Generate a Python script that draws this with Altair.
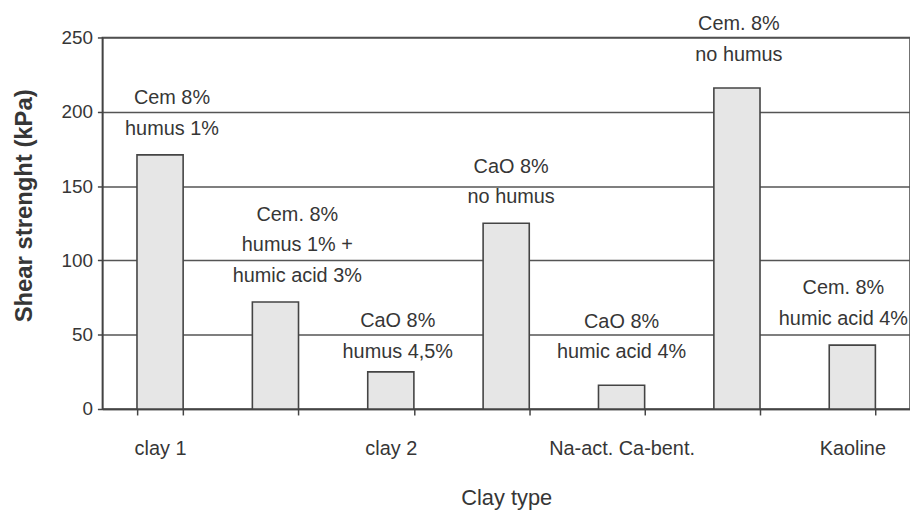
import json
import altair as alt
import pandas as pd

bar_ids = ["1", "2", "3", "4", "5", "6", "7"]
clay_labels = ["clay 1", "", "clay 2", "", "Na-act. Ca-bent.", "", "Kaoline"]
strength = [171, 72, 25, 125, 16, 216, 43]
treatments = [
    "Cem 8%\nhumus 1%",
    "Cem. 8%\nhumus 1% +\nhumic acid 3%",
    "CaO 8%\nhumus 4,5%",
    "CaO 8%\nno humus",
    "CaO 8%\nhumic acid 4%",
    "Cem. 8%\nno humus",
    "Cem. 8%\nhumic acid 4%",
]
y_ticks = [0, 50, 100, 150, 200, 250]

df = pd.DataFrame({"bar": bar_ids, "strength": strength, "label": treatments})

FONT = "Liberation Sans"
INK = "#363636"
PLOT_W, PLOT_H = 813, 374
Y_MAX = 250
LINE_H = 31
GAP = 16  # px between bar top and bottom of label block
# per-label nudges (style only), pixels
LABEL_NUDGE = {"1": (12, 0), "2": (22, 0), "3": (7, 6), "4": (5, 0),
               "5": (0, -7), "6": (2, -7), "7": (-9, 0)}

label_expr = json.dumps(clay_labels) + "[toNumber(datum.value) - 1]"

x = alt.X(
    "bar:N",
    sort=bar_ids,
    scale=alt.Scale(paddingInner=0.6, paddingOuter=0.3),
    axis=alt.Axis(
        title="Clay type",
        labelExpr=label_expr,
        labelAngle=0,
        tickBand="extent",
        tickSize=6,
        labelPadding=24,
        titlePadding=29,
        labelFontSize=20,
        titleFontSize=22,
        titleFontWeight="normal",
        labelFont=FONT,
        titleFont=FONT,
        labelColor=INK,
        titleColor=INK,
        domainColor="#444",
        tickColor="#444",
        domainWidth=1.5,
        tickWidth=1.5,
        grid=False,
    ),
)

y = alt.Y(
    "strength:Q",
    scale=alt.Scale(domain=[0, Y_MAX], nice=False),
    axis=alt.Axis(
        title="Shear strenght (kPa)",
        values=y_ticks,
        tickSize=5,
        labelPadding=5,
        labelFontSize=19,
        titleFontSize=24,
        titleFontWeight="bold",
        titleX=-78,
        titleY=169,
        titleBaseline="middle",
        labelFont=FONT,
        titleFont=FONT,
        labelColor=INK,
        titleColor=INK,
        domainColor="#444",
        tickColor="#444",
        domainWidth=1.5,
        tickWidth=1.5,
        grid=True,
        gridColor="#555",
        gridWidth=1.5,
    ),
)

bars = alt.Chart(df).mark_bar(
    fill="#e6e6e6", stroke="#444", strokeWidth=1.6
).encode(x=x, y=y)

px_to_val = Y_MAX / PLOT_H
layers = [bars]
for b in bar_ids:
    ddx, ddy = LABEL_NUDGE[b]
    layers.append(
        alt.Chart(df)
        .transform_filter(f"datum.bar == '{b}'")
        .transform_calculate(
            ty=f"datum.strength + ((length(split(datum.label, '\\n')) - 1) * {LINE_H} + {GAP}) * {px_to_val}"
        )
        .mark_text(
            baseline="bottom",
            align="center",
            lineBreak="\n",
            lineHeight=LINE_H,
            fontSize=20,
            font=FONT,
            color=INK,
            dx=ddx,
            dy=ddy,
        )
        .encode(x=alt.X("bar:N", sort=bar_ids), y=alt.Y("ty:Q"), text="label:N")
    )

chart = (
    alt.layer(*layers)
    .properties(
        width=PLOT_W,
        height=PLOT_H,
        autosize=alt.AutoSizeParams(type="none"),
        padding={"left": 95, "top": 28, "right": 0, "bottom": 100},
        background="white",
    )
    .configure_view(stroke="#444", strokeWidth=1.5)
)

chart.save("out.html", embed_options={"renderer": "svg", "actions": False})
